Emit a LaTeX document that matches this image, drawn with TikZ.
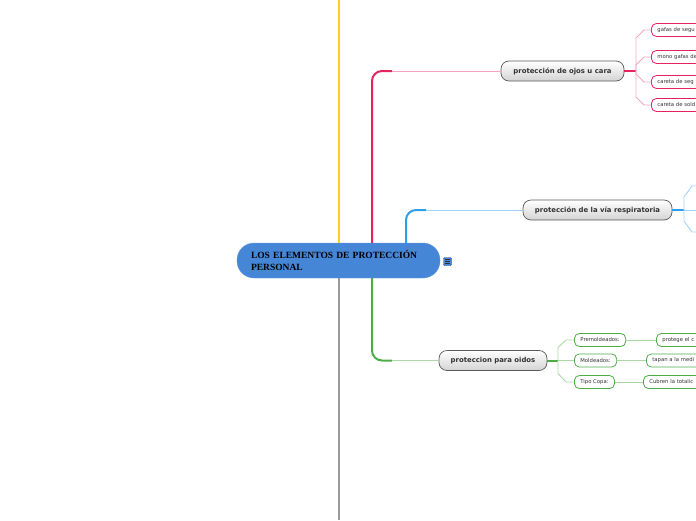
\documentclass[tikz,border=0pt]{standalone}
\usepackage{fontspec}
\setmainfont{Liberation Serif}
\setsansfont{DejaVu Sans}
\usetikzlibrary{positioning}

\definecolor{rootblue}{HTML}{4686D6}
\definecolor{goldline}{HTML}{FFD11E}
\definecolor{greyline}{HTML}{9A9A9A}
\definecolor{pinkdark}{HTML}{E5235F}
\definecolor{pinklight}{HTML}{F5A3C2}
\definecolor{bluedark}{HTML}{2E9EEA}
\definecolor{bluelight}{HTML}{A5D3F6}
\definecolor{greendark}{HTML}{4EAD47}
\definecolor{greenlight}{HTML}{AAD9A5}

\begin{document}
\begin{tikzpicture}[x=1pt, y=-1pt,
  root/.style={
    draw=rootblue!85!white, fill=rootblue, rounded corners=17pt,
    minimum width=203pt, minimum height=35pt, text width=175pt,
    inner xsep=14pt, align=left,
    font=\fontsize{9.5}{12}\selectfont\bfseries,
  },
  topic/.style={
    draw=black!65, line width=0.7pt, top color=white, bottom color=black!17,
    rounded corners=8pt, minimum height=20pt, text=black!80,
    font=\sffamily\bfseries\fontsize{6.9}{8}\selectfont,
  },
  leaf/.style={
    draw, fill=white, line width=0.8pt, rounded corners=5pt,
    minimum height=13pt, anchor=west, inner xsep=6pt, text=black!80,
    font=\sffamily\fontsize{5.3}{6}\selectfont,
  },
  cutleaf/.style={leaf, text width=70pt, align=left},
  trunk/.style={line width=2pt},
  thin/.style={line width=0.9pt},
]
\useasboundingbox (0,0) rectangle (696,520);
\clip (0,0) rectangle (696,520);

% central idea
\node[root] (root) at (338.5,260.5) {LOS ELEMENTOS DE PROTECCIÓN\\PERSONAL};
\node[draw=rootblue!60!black, fill=rootblue, rounded corners=1pt,
      minimum size=8pt, inner sep=0pt] (menu) at (447.5,261.5) {};
\foreach \dy in {-2,0,2}
  \draw[black!80, line width=0.6pt] ([xshift=-2.5pt,yshift=\dy pt]menu.center) -- ++(5,0);

% outer lines
\coordinate (topend) at (339,0);
\coordinate (botend) at (339,520);
\draw[trunk, goldline] ([xshift=0.5pt]root.north) -- (topend);
\draw[trunk, greyline] ([xshift=0.5pt]root.south) -- (botend);

% main topics
\node[topic, minimum width=123pt] (eyes) at (562.5,71) {protección de ojos u cara};
\node[topic, minimum width=149pt] (resp) at (597.5,210) {protección de la vía respiratoria};
\node[topic, minimum width=108pt] (ears) at (493,360.5) {proteccion para oidos};

% branches from the centre
\coordinate (pinkbend) at (392,71);
\coordinate (bluebend) at (426,210);
\coordinate (greenbend) at (392,360.5);
\draw[trunk, pinkdark, rounded corners=10pt] ([xshift=33.5pt]root.north) |- (pinkbend);
\draw[thin, pinklight] (pinkbend) -- (eyes.west);
\draw[trunk, bluedark, rounded corners=10pt] ([xshift=67.5pt]root.north) |- (bluebend);
\draw[thin, bluelight] (bluebend) -- (resp.west);
\draw[trunk, greendark, rounded corners=10pt] ([xshift=33.5pt]root.south) |- (greenbend);
\draw[thin, greenlight] (greenbend) -- (ears.west);

% eyes and face
\node[cutleaf, draw=pinkdark] (gafas) at (651,30) {gafas de segu};
\node[cutleaf, draw=pinkdark] (mono) at (651,57) {mono gafas de};
\node[cutleaf, draw=pinkdark] (caretaseg) at (651,82) {careta de seg};
\node[cutleaf, draw=pinkdark] (caretasol) at (651,105) {careta de sold};
\coordinate (pj) at (636,71);
\draw[trunk, pinkdark] (eyes.east) -- (pj);
\draw[thin, pinklight] (pj) -- ([xshift=-15pt,yshift=-8pt]gafas.west) -- ([xshift=-7pt]gafas.west) -- (gafas.west);
\draw[thin, pinklight] (pj) -- ([xshift=-15pt,yshift=-8pt]mono.west) -- ([xshift=-7pt]mono.west) -- (mono.west);
\draw[thin, pinklight] (pj) -- ([xshift=-15pt,yshift=8pt]caretaseg.west) -- ([xshift=-7pt]caretaseg.west) -- (caretaseg.west);
\draw[thin, pinklight] (pj) -- ([xshift=-15pt,yshift=8pt]caretasol.west) -- ([xshift=-7pt]caretasol.west) -- (caretasol.west);

% breathing
\coordinate (rj) at (684,210);
\coordinate (resp1) at (700,186);
\coordinate (resp2) at (700,210);
\coordinate (resp3) at (700,232);
\draw[trunk, bluedark] (resp.east) -- (rj);
\draw[thin, bluelight] (rj) -- ++(0,-13) -- ++(8,-11) -- (resp1);
\draw[thin, bluelight] (rj) -- (resp2);
\draw[thin, bluelight] (rj) -- ++(0,11) -- ++(8,11) -- (resp3);

% ears
\node[leaf, draw=greendark] (premold) at (574,340) {Premoldeados:};
\node[leaf, draw=greendark] (mold) at (574,360.5) {Moldeados:};
\node[leaf, draw=greendark] (copa) at (574,382) {Tipo Copa:};
\node[cutleaf, draw=greendark] (protege) at (656,340) {protege el c};
\node[cutleaf, draw=greendark] (tapan) at (646,360.5) {tapan a la medi};
\node[cutleaf, draw=greendark] (cubren) at (643,382) {Cubren la totalic};
\coordinate (gj) at (558,360.5);
\draw[trunk, greendark] (ears.east) -- (gj);
\draw[thin, greenlight] (gj) -- ++(0,-13) -- ++(8,-7.5) -- (premold.west);
\draw[thin, greenlight] (gj) -- (mold.west);
\draw[thin, greenlight] (gj) -- ++(0,13) -- ++(8,8.5) -- (copa.west);
\draw[thin, greenlight] (premold.east) -- (protege.west);
\draw[thin, greenlight] (mold.east) -- (tapan.west);
\draw[thin, greenlight] (copa.east) -- (cubren.west);
\end{tikzpicture}
\end{document}
